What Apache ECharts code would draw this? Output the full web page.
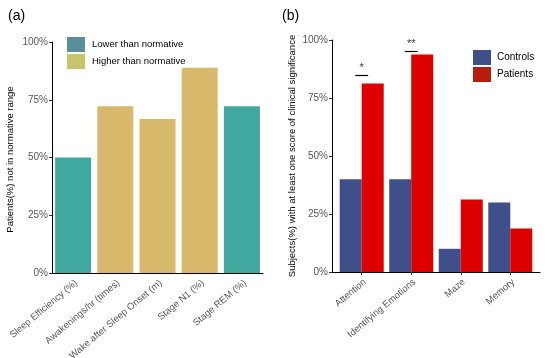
<!DOCTYPE html>
<html><head><meta charset="utf-8">
<script src="https://cdn.jsdelivr.net/npm/echarts@6/dist/echarts.min.js"></script>
<style>html,body{margin:0;padding:0;background:#fff}#c{width:550px;height:358px}</style>
</head><body><div id="c"></div>
<script>
// Panel (a)
const leftCats = ['Sleep Efficiency (%)', 'Awakenings/hr (times)', 'Wake after Sleep Onset (m)', 'Stage N1 (%)', 'Stage REM (%)'];
const lowerVals = [50, null, null, null, 72.2];
const higherVals = [null, 72.2, 66.7, 88.9, null];
// Panel (b)
const rightCats = ['Attention', 'Identifying Emotions', 'Maze', 'Memory'];
const controlsVals = [40, 40, 10, 30];
const patientsVals = [81.25, 93.75, 31.25, 18.75];
// significance annotations
const sigCat = [0, 1];
const sigLineY = [85, 95.3];
const sigText = ['*', '**'];

const FONT = 'Liberation Sans';
const chart = echarts.init(document.getElementById('c'));
const yAxisCommon = {
  type: 'value', min: 0, max: 100, interval: 25,
  axisLine: {show: true, onZero: false, lineStyle: {color: '#000', width: 1}},
  axisTick: {show: true, length: 3, lineStyle: {color: '#333'}},
  axisLabel: {formatter: '{value}%', color: '#555', fontSize: 10, fontFamily: FONT, margin: 4},
  splitLine: {show: false},
  nameLocation: 'middle', nameRotate: 90
};
const xLabel = {rotate: 40, color: '#555', fontSize: 9.5, fontFamily: FONT, margin: 5,
                align: 'right', verticalAlign: 'top', interval: 0};
const option = {
  animation: false,
  textStyle: {fontFamily: FONT},
  title: [
    {text: '(a)', left: 3, top: 4, textStyle: {fontSize: 14, fontWeight: 'normal', color: '#000', fontFamily: FONT}},
    {text: '(b)', left: 277, top: 4, textStyle: {fontSize: 14, fontWeight: 'normal', color: '#000', fontFamily: FONT}}
  ],
  legend: [
    {left: 67, top: 37, padding: 0, orient: 'vertical', icon: 'rect', itemWidth: 18, itemHeight: 15, itemGap: 2,
     textStyle: {fontSize: 9.5, color: '#000', fontFamily: FONT, padding: [0, 0, 0, 2]},
     data: [{name: 'Lower than normative', itemStyle: {color: '#5a8f99'}},
            {name: 'Higher than normative', itemStyle: {color: '#c8c46c'}}]},
    {left: 473, top: 50, padding: 0, orient: 'vertical', icon: 'rect', itemWidth: 18, itemHeight: 15, itemGap: 2,
     textStyle: {fontSize: 10, color: '#000', fontFamily: FONT, padding: [0, 0, 0, 1]},
     data: [{name: 'Controls', itemStyle: {color: '#3e4f8a'}},
            {name: 'Patients', itemStyle: {color: '#b81c0c'}}]}
  ],
  grid: [
    {left: 52, right: 287, top: 42, bottom: 85, containLabel: false, outerBoundsMode: 'none'},
    {left: 332, right: 10, top: 40, bottom: 86, containLabel: false, outerBoundsMode: 'none'}
  ],
  xAxis: [
    {type: 'category', gridIndex: 0, data: leftCats,
     axisLine: {onZero: false, lineStyle: {color: '#000'}},
     axisTick: {alignWithLabel: true, length: 3, lineStyle: {color: '#333'}},
     axisLabel: xLabel},
    {type: 'value', gridIndex: 1, min: -0.6, max: 3.6,
     axisLine: {show: true, onZero: false, lineStyle: {color: '#000'}},
     axisTick: {show: true, length: 3, customValues: [0, 1, 2, 3], lineStyle: {color: '#333'}},
     axisLabel: Object.assign({}, xLabel, {customValues: [0, 1, 2, 3], formatter: v => rightCats[Math.round(v)]}),
     splitLine: {show: false}}
  ],
  yAxis: [
    Object.assign({}, yAxisCommon, {gridIndex: 0, name: 'Patients(%) not in normative range', nameGap: 37,
      nameTextStyle: {color: '#000', fontSize: 9.5, fontFamily: FONT, padding: [0, 4, 0, 0]}}),
    Object.assign({}, yAxisCommon, {gridIndex: 1, name: 'Subjects(%) with at least one score of clinical significance', nameGap: 35,
      nameTextStyle: {color: '#000', fontSize: 9.5, fontFamily: FONT}})
  ],
  series: [
    {name: 'Lower than normative', type: 'bar', xAxisIndex: 0, yAxisIndex: 0, stack: 'a',
     barWidth: 36, itemStyle: {color: '#40a89f'}, data: lowerVals.map(v => v == null ? '-' : v)},
    {name: 'Higher than normative', type: 'bar', xAxisIndex: 0, yAxisIndex: 0, stack: 'a',
     barWidth: 36, itemStyle: {color: '#d8b96b'}, data: higherVals.map(v => v == null ? '-' : v)},
    {name: 'Controls', type: 'bar', xAxisIndex: 1, yAxisIndex: 1, barWidth: 22, barGap: '0%',
     itemStyle: {color: '#3e4f8a'}, data: controlsVals.map((v, i) => [i, v])},
    {name: 'Patients', type: 'bar', xAxisIndex: 1, yAxisIndex: 1, barWidth: 22, barGap: '0%',
     itemStyle: {color: '#dd0000'}, data: patientsVals.map((v, i) => [i, v])},
    {type: 'scatter', xAxisIndex: 1, yAxisIndex: 1, symbolSize: 0, silent: true,
     data: sigCat.map((c, i) => ({value: [c, sigLineY[i]], name: sigText[i]})),
     label: {show: true, position: 'top', distance: 1, formatter: p => p.name, color: '#000', fontSize: 11, fontFamily: FONT},
     markLine: {symbol: 'none', silent: true, label: {show: false},
       lineStyle: {color: '#000', width: 1.2, type: 'solid'},
       data: sigCat.map((c, i) => [{coord: [c - 0.13, sigLineY[i]]}, {coord: [c + 0.13, sigLineY[i]]}])}}
  ]
};
chart.setOption(option);
</script></body></html>
